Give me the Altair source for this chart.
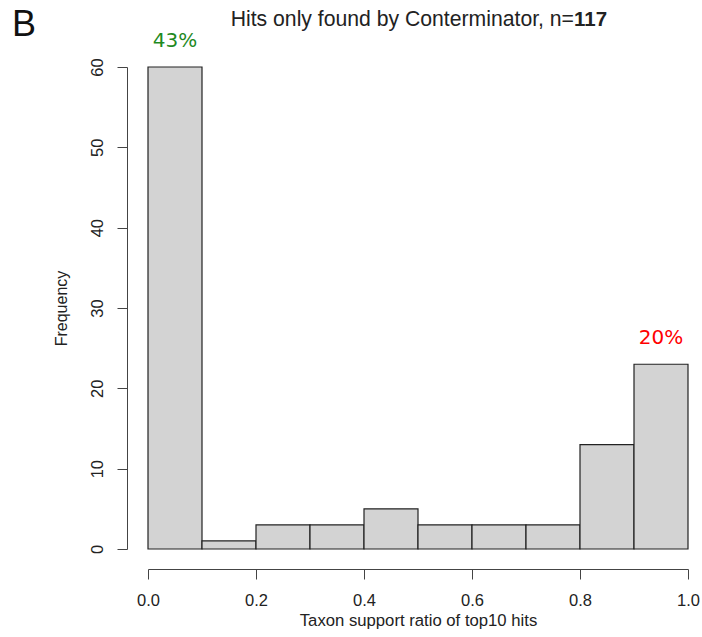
import altair as alt
import pandas as pd

# Histogram of taxon support ratio (bin width 0.1)
bin_start = [0.0, 0.1, 0.2, 0.3, 0.4, 0.5, 0.6, 0.7, 0.8, 0.9]
bin_end = [0.1, 0.2, 0.3, 0.4, 0.5, 0.6, 0.7, 0.8, 0.9, 1.0]
counts = [60, 1, 3, 3, 5, 3, 3, 3, 13, 23]

# Percent annotations above the first and last bins
note_x = [0.05, 0.95]
note_y = [60, 23]
note_text = ["43%", "20%"]
note_color = ["#1f8a1f", "#ff0000"]

x_ticks = [0.0, 0.2, 0.4, 0.6, 0.8, 1.0]
y_ticks = [0, 10, 20, 30, 40, 50, 60]

FONT = "Liberation Sans"

hist = pd.DataFrame({"start": bin_start, "end": bin_end, "count": counts})
notes = pd.DataFrame({"x": note_x, "y": note_y, "label": note_text, "color": note_color})

x_scale = alt.Scale(domain=[0, 1], nice=False, zero=False)
y_scale = alt.Scale(domain=[0, 60], nice=False)

bars = alt.Chart(hist).mark_rect(
    fill="#d3d3d3", stroke="#222222", strokeWidth=1.2
).encode(
    x=alt.X(
        "start:Q",
        scale=x_scale,
        title="Taxon support ratio of top10 hits",
        axis=alt.Axis(
            values=x_ticks, format=".1f", offset=20, tickSize=10,
            grid=False, labelFontSize=16.5, titleFontSize=16.7,
            labelPadding=13, titlePadding=4, labelFont=FONT, titleFont=FONT,
            domainColor="#444444", tickColor="#444444",
            labelColor="#222222", titleColor="#222222", titleFontWeight="normal",
            labelFlush=False,
        ),
    ),
    x2="end:Q",
    y=alt.Y(
        "count:Q",
        scale=y_scale,
        title="Frequency",
        axis=alt.Axis(
            values=y_ticks, offset=21, tickSize=10, grid=False,
            labelAngle=-90, labelAlign="center", labelBaseline="alphabetic",
            labelPadding=15, labelFontSize=16.5, titleFontSize=16,
            titlePadding=20, labelFont=FONT, titleFont=FONT,
            domainColor="#444444", tickColor="#444444",
            labelColor="#222222", titleColor="#222222", titleFontWeight="normal",
            labelFlush=False,
        ),
    ),
    y2=alt.datum(0),
)

pct = alt.Chart(notes).mark_text(
    font="DejaVu Sans", fontSize=20, baseline="alphabetic", align="center", dy=-20
).encode(
    x=alt.X("x:Q", scale=x_scale),
    y=alt.Y("y:Q", scale=y_scale),
    text="label:N",
    color=alt.Color("color:N", scale=None),
)

title_main = alt.Chart(pd.DataFrame({"t": ["Hits only found by Conterminator, n="]})).mark_text(
    font=FONT, fontSize=21.2, align="right", baseline="alphabetic", color="#222222"
).encode(x=alt.value(426), y=alt.value(-41), text="t:N")

title_bold = alt.Chart(pd.DataFrame({"t": ["117"]})).mark_text(
    font=FONT, fontSize=20.5, fontWeight="bold", align="left", baseline="alphabetic",
    color="#222222"
).encode(x=alt.value(426), y=alt.value(-41), text="t:N")

panel = alt.Chart(pd.DataFrame({"t": ["B"]})).mark_text(
    font=FONT, fontSize=36, align="left", baseline="alphabetic", color="#111111"
).encode(x=alt.value(-136), y=alt.value(-31), text="t:N")

chart = alt.layer(bars, pct, title_main, title_bold, panel).properties(
    width=540,
    height=482,
    autosize=alt.AutoSizeParams(type="none"),
    padding={"left": 148, "top": 67, "right": 14, "bottom": 88},
    background="white",
).configure_view(stroke=None)

chart.save("out.html", embed_options={"renderer": "svg", "actions": False})
